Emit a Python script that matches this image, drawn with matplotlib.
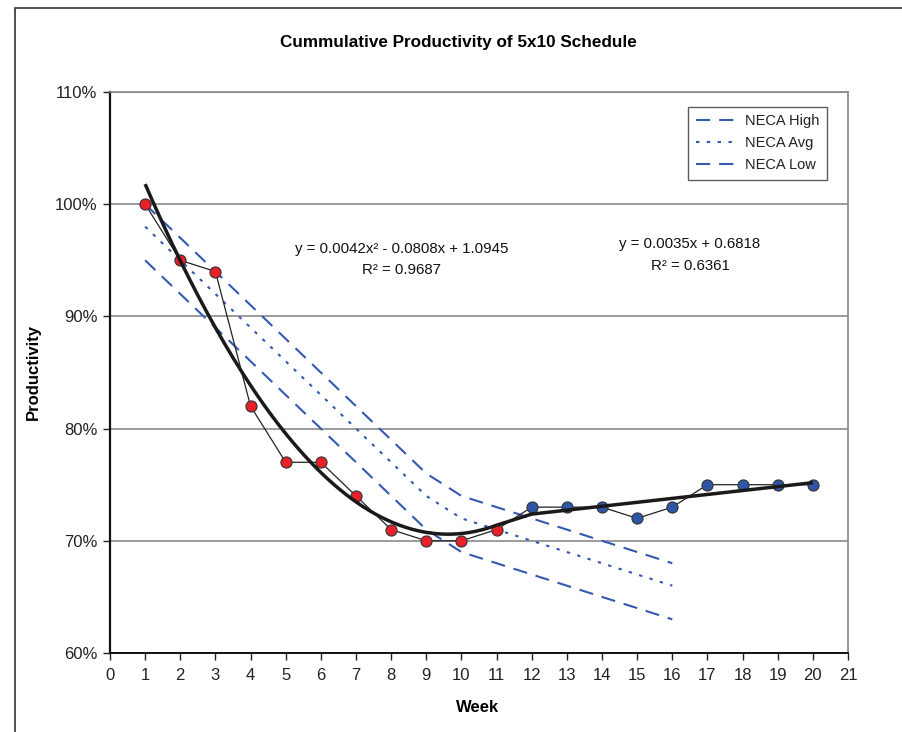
import matplotlib
matplotlib.use('Agg')
import matplotlib.pyplot as plt
import numpy as np
from matplotlib.patches import Rectangle
from matplotlib.ticker import FuncFormatter

plt.rcParams['font.family'] = ['Liberation Sans', 'DejaVu Sans']

# ---- data ----
weeks = list(range(1, 21))
productivity = [1.00, 0.95, 0.94, 0.82, 0.77, 0.77, 0.74, 0.71, 0.70, 0.70, 0.71,
                0.73, 0.73, 0.73, 0.72, 0.73, 0.75, 0.75, 0.75, 0.75]
n_first = 11  # red points (weeks 1-11), blue points after

neca_weeks = list(range(1, 17))
neca_high = [1.00, 0.97, 0.94, 0.91, 0.88, 0.85, 0.82, 0.79, 0.76, 0.74, 0.73, 0.72, 0.71, 0.70, 0.69, 0.68]
neca_avg = [0.98, 0.95, 0.92, 0.89, 0.86, 0.83, 0.80, 0.77, 0.74, 0.72, 0.71, 0.70, 0.69, 0.68, 0.67, 0.66]
neca_low = [0.95, 0.92, 0.89, 0.86, 0.83, 0.80, 0.77, 0.74, 0.71, 0.69, 0.68, 0.67, 0.66, 0.65, 0.64, 0.63]

poly_coef = [0.0042, -0.0808, 1.0945]
poly_r2 = 0.9687
lin_coef = [0.0035, 0.6818]
lin_r2 = 0.6361

title = "Cummulative Productivity of 5x10 Schedule"
xlabel = "Week"
ylabel = "Productivity"
x_ticks = list(range(0, 22))
y_ticks = [0.6, 0.7, 0.8, 0.9, 1.0, 1.1]

# ---- figure ----
fig = plt.figure(figsize=(9.02, 7.32), dpi=100)
ax = fig.add_axes([110/902, 1-653/732, (848-110)/902, (653-92)/732])

# outer chart border
fig.patches.append(Rectangle((15/902, -0.1), 1.2, (1 + 0.1 - 8/732), transform=fig.transFigure,
                             fill=False, edgecolor='#333333', linewidth=1.2))

necacol = '#3558B0'
ax.plot(neca_weeks, neca_high, color=necacol, lw=1.5, linestyle=(0, (6.8, 4.3)),
        dash_capstyle='butt', label='NECA High', zorder=2)
ax.plot(neca_weeks, neca_avg, color=necacol, lw=1.5, linestyle=(0, (1.6, 3.6)),
        dash_capstyle='butt', label='NECA Avg', zorder=2)
ax.plot(neca_weeks, neca_low, color=necacol, lw=1.5, linestyle=(0, (6.8, 4.3)),
        dash_capstyle='butt', label='NECA Low', zorder=2)

# thin connecting line
ax.plot(weeks, productivity, color='#222222', lw=0.9, zorder=3)
# markers
ax.plot(weeks[:n_first], productivity[:n_first], linestyle='none', marker='o', ms=8,
        mfc='#E8202A', mec='#333333', mew=0.8, zorder=4)
ax.plot(weeks[n_first:], productivity[n_first:], linestyle='none', marker='o', ms=8,
        mfc='#2F56A6', mec='#333333', mew=0.8, zorder=4)

# trend lines
x1 = np.linspace(weeks[0], weeks[n_first - 1], 120)
x2 = np.linspace(weeks[n_first], weeks[-1], 60)
xt = np.concatenate([x1, x2])
yt = np.concatenate([np.polyval(poly_coef, x1), np.polyval(lin_coef, x2)])
ax.plot(xt, yt, color='#1a1a1a', lw=2.5, zorder=5, solid_capstyle='butt')

ax.set_xlim(0, 21)
ax.set_ylim(0.6, 1.1)
ax.set_xticks(x_ticks)
ax.set_yticks(y_ticks)
ax.yaxis.set_major_formatter(FuncFormatter(lambda v, p: f"{v*100:.0f}%"))
ax.tick_params(axis='both', labelsize=12, colors='#222222', length=5, width=1)
ax.tick_params(axis='x', direction='out', pad=6)
ax.tick_params(axis='y', direction='out', pad=4)
ax.grid(axis='y', color='#808080', lw=1.1)
ax.set_axisbelow(True)
for s in ['top', 'right']:
    ax.spines[s].set_color('#888888')
    ax.spines[s].set_linewidth(1.2)
ax.spines['left'].set_color('#111111')
ax.spines['left'].set_linewidth(1.6)
ax.spines['bottom'].set_color('#111111')
ax.spines['bottom'].set_linewidth(1.4)

fig.text(458/902, 1-42/732, title, ha='center', va='center', fontsize=12.3, fontweight='bold')
fig.text(478/902, 1-707/732, xlabel, ha='center', va='center', fontsize=12, fontweight='bold')
fig.text(33/902, 1-372/732, ylabel, ha='center', va='center', fontsize=12, fontweight='bold',
         rotation=90)

eq_fs = 10.8
fig.text(402/902, 1-249/732,
         f"y = {poly_coef[0]:.4f}x² - {abs(poly_coef[1]):.4f}x + {poly_coef[2]:.4f}",
         fontsize=eq_fs, ha='center', va='center', color='#111111')
fig.text(402/902, 1-270/732, f"R² = {poly_r2:.4f}",
         fontsize=eq_fs, ha='center', va='center', color='#111111')
fig.text(690/902, 1-244/732, f"y = {lin_coef[0]:.4f}x + {lin_coef[1]:.4f}",
         fontsize=eq_fs, ha='center', va='center', color='#111111')
fig.text(690/902, 1-266/732, f"R² = {lin_r2:.4f}",
         fontsize=eq_fs, ha='center', va='center', color='#111111')

leg = ax.legend(loc='upper right', bbox_to_anchor=((827-110)/738, (653-107)/561),
                borderaxespad=0, fontsize=10.5, frameon=True, fancybox=False,
                handlelength=2.8, labelspacing=0.55, handletextpad=0.6, borderpad=0.5)
leg.get_frame().set_edgecolor('#333333')
leg.get_frame().set_linewidth(1.0)
for t in leg.get_texts():
    t.set_color('#222222')

fig.savefig('out.png', dpi=100)
